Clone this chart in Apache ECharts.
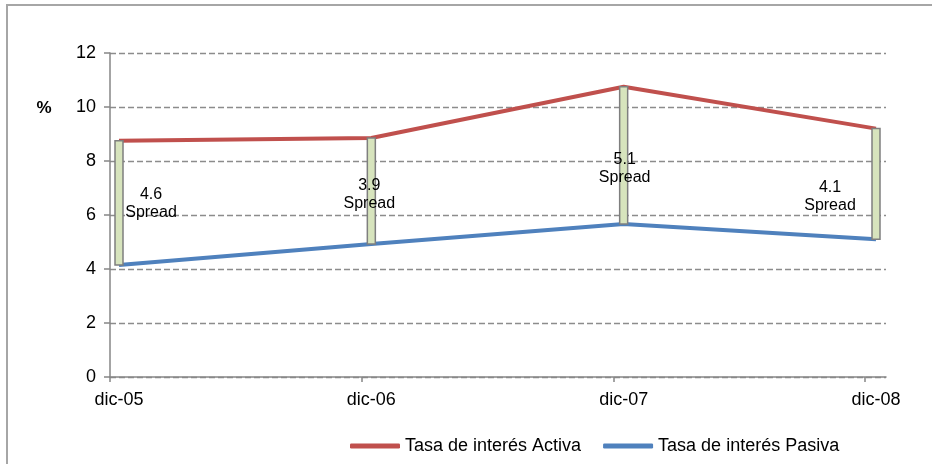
<!DOCTYPE html>
<html><head><meta charset="utf-8">
<script src="https://cdn.jsdelivr.net/npm/echarts@6/dist/echarts.min.js"></script>
<style>html,body{margin:0;padding:0;background:#fff}#c{width:932px;height:464px}</style>
</head><body><div id="c"></div>
<script>
const categories = ['dic-05', 'dic-06', 'dic-07', 'dic-08'];
const activa = [8.75, 8.85, 10.75, 9.2];
const pasiva = [4.15, 4.93, 5.67, 5.1];
const yTicks = [0, 2, 4, 6, 8, 10, 12];
const seriesNames = ['Tasa de interés Activa', 'Tasa de interés Pasiva'];
const spreadWord = 'Spread';
const yUnit = '%';

// styling: label offset (dx, dy) from the middle of each spread bar
const labelPlacement = [[32, 1], [-2, 4], [1, 13], [-46, 13]];

const FONT = '"Liberation Sans", Arial, sans-serif';
const chart = echarts.init(document.getElementById('c'), null, {renderer: 'canvas'});
const spreadData = categories.map((c, i) => [i, activa[i], pasiva[i]]);
const axisColor = '#868686';

const option = {
  animation: false,
  backgroundColor: '#fff',
  textStyle: {fontFamily: FONT},
  grid: [
    {left: 110, top: 53, width: 776, height: 324},
    {left: 119, top: 53, width: 757, height: 324}
  ],
  xAxis: [
    {type: 'value', gridIndex: 0, min: 0, max: 3.083, interval: 1,
     axisLine: {show: true, lineStyle: {color: axisColor, width: 1.5}},
     axisTick: {show: true, length: 5, lineStyle: {color: axisColor, width: 1.5}, customValues: [0, 1, 2, 3]},
     axisLabel: {show: false}, splitLine: {show: false}},
    {type: 'category', gridIndex: 1, data: categories, boundaryGap: false,
     axisLine: {show: false}, axisTick: {show: false},
     axisLabel: {fontSize: 18, color: '#000', fontFamily: FONT, margin: 14}}
  ],
  yAxis: [
    {type: 'value', gridIndex: 0, min: 0, max: 12, interval: 2,
     axisLine: {show: true, lineStyle: {color: axisColor, width: 1.5}},
     axisTick: {show: true, length: 6, lineStyle: {color: axisColor, width: 1.5}},
     axisLabel: {fontSize: 18, color: '#000', fontFamily: FONT, margin: 14, customValues: yTicks},
     splitLine: {show: true, lineStyle: {type: [6, 3], color: '#8c8c8c', width: 1.3}}},
    {type: 'value', gridIndex: 1, min: 0, max: 12, show: false}
  ],
  legend: {
    data: seriesNames, left: 345, top: 432, itemWidth: 50, itemHeight: 5, itemGap: 22,
    icon: 'roundRect',
    textStyle: {fontSize: 18, color: '#000', fontFamily: FONT}
  },
  graphic: [
    {type: 'rect', shape: {x: 7, y: 5, width: 960, height: 480}, style: {fill: 'none', stroke: '#a6a6a6', lineWidth: 2}, silent: true},
    {type: 'text', x: 44, y: 108, style: {text: yUnit, font: 'bold 17px "Liberation Sans", Arial', fill: '#000', align: 'center', verticalAlign: 'middle'}}
  ],
  series: [
    {name: seriesNames[0], type: 'line', xAxisIndex: 1, yAxisIndex: 1, data: activa, symbol: 'none',
     lineStyle: {color: '#c0504d', width: 4}, itemStyle: {color: '#c0504d'}, z: 2},
    {name: seriesNames[1], type: 'line', xAxisIndex: 1, yAxisIndex: 1, data: pasiva, symbol: 'none',
     lineStyle: {color: '#4f81bd', width: 4}, itemStyle: {color: '#4f81bd'}, z: 2},
    {name: 'spread', type: 'custom', xAxisIndex: 1, yAxisIndex: 1, data: spreadData, z: 5,
     encode: {x: 0, y: [1, 2]},
     renderItem: function (params, api) {
       const i = api.value(0);
       const top = api.coord([i, api.value(1)]);
       const bot = api.coord([i, api.value(2)]);
       const w = 8;
       const spread = (api.value(1) - api.value(2)).toFixed(1);
       const pl = labelPlacement[i];
       const midY = (top[1] + bot[1]) / 2;
       return {type: 'group', children: [
         {type: 'rect', shape: {x: top[0] - w / 2, y: top[1], width: w, height: bot[1] - top[1]},
          style: {fill: '#d7e4bd', stroke: '#7f7f7f', lineWidth: 1.5}},
         {type: 'text', x: top[0] + pl[0], y: midY + pl[1],
          style: {text: spread + '\n' + spreadWord, align: 'center', verticalAlign: 'middle',
                  fontSize: 16, fontFamily: FONT, lineHeight: 18, fill: '#000'}}
       ]};
     }}
  ]
};
chart.setOption(option);
</script>
</body></html>
